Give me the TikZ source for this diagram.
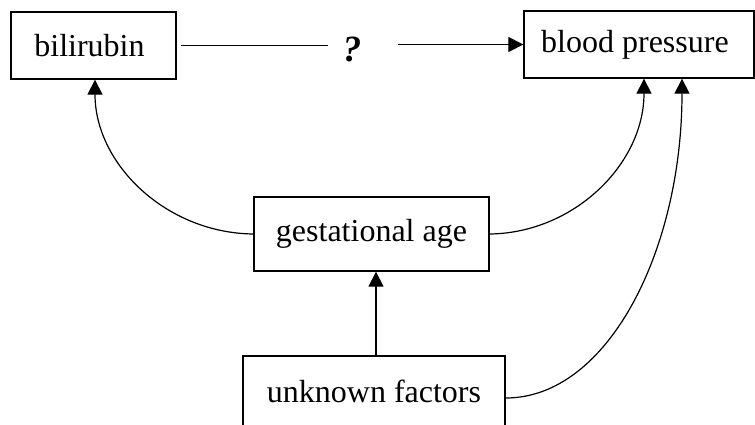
\documentclass[tikz,border=0pt]{standalone}
\usepackage{fontspec}
\setmainfont{Liberation Serif}
\usetikzlibrary{arrows.meta}
\begin{document}
\begin{tikzpicture}[x=1pt,y=-1pt,
  box/.style={draw, line width=1.3pt, inner sep=0pt, font=\fontsize{32}{38}\selectfont},
  conn/.style={line width=1.2pt},
  arr/.style={conn, -{Triangle[length=15pt,width=15pt]}}]
\useasboundingbox (0,0) rectangle (755,424);
\node[box, minimum width=165pt, minimum height=67pt] (bil) at (93.5,45.5) {\hspace{-8pt}bilirubin};
\node[box, minimum width=230pt, minimum height=67pt] (bp) at (639,44.5) {\hspace{-8pt}\raisebox{-2pt}{blood pressure}};
\node[box, minimum width=235pt, minimum height=74pt] (ga) at (371.5,234) {gestational age};
\node[box, minimum width=262pt, minimum height=74pt] (uf) at (374,393) {\raisebox{4pt}{unknown factors}};
\node[inner sep=0pt, font=\fontsize{37}{42}\selectfont\bfseries\itshape] (q) at (352,50) {?};
\draw[conn, shorten <=4pt, shorten >=24pt] (bil.east) -- (bil.east -| q.center);
\draw[arr, shorten <=46pt] (bp.west -| q.center) -- (bp.west);
\draw[arr] (ga.west) .. controls (166,233) and ([xshift=1.5pt]bil.south |- 0,164) .. ([xshift=1.5pt]bil.south);
\draw[arr] (ga.east) .. controls (574,233) and ([xshift=5pt]bp.south |- 0,164) .. ([xshift=5pt]bp.south);
\draw[arr] ([yshift=-5pt]uf.east) .. controls (608,398) and ([xshift=43pt]bp.south |- 0,250) .. ([xshift=43pt]bp.south);
\draw[arr] ([xshift=2pt]uf.north) -- ([xshift=4.5pt]ga.south);
\end{tikzpicture}
\end{document}
